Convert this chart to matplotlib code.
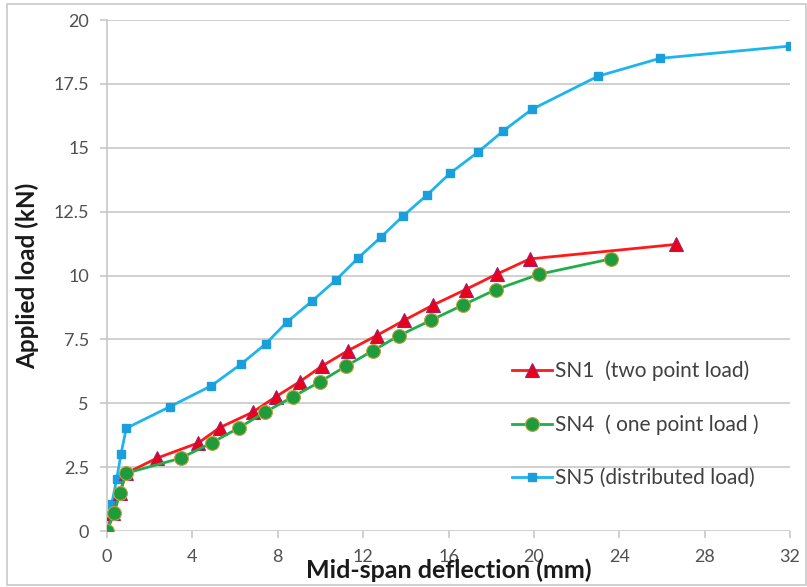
import matplotlib.pyplot as plt
from matplotlib.patches import Rectangle

# load-deflection readings (mm, kN)
sn1_x = [0, 0.3, 0.6, 0.9, 2.33, 4.28, 5.29, 6.82, 7.9, 9.04, 10.06, 11.27, 12.63, 13.93, 15.29, 16.8, 18.25, 19.81, 26.68]
sn1_y = [0, 0.72, 1.5, 2.26, 2.85, 3.45, 4.05, 4.65, 5.25, 5.85, 6.45, 7.05, 7.65, 8.25, 8.85, 9.45, 10.05, 10.65, 11.22]

sn4_x = [0, 0.34, 0.61, 0.89, 3.45, 4.9, 6.2, 7.4, 8.7, 10.0, 11.19, 12.44, 13.69, 15.18, 16.69, 18.22, 20.25, 23.6]
sn4_y = [0, 0.72, 1.5, 2.26, 2.85, 3.45, 4.05, 4.65, 5.25, 5.85, 6.45, 7.05, 7.65, 8.25, 8.85, 9.45, 10.05, 10.65]

sn5_x = [0, 0.22, 0.45, 0.66, 0.9, 2.93, 4.88, 6.26, 7.43, 8.42, 9.62, 10.73, 11.76, 12.83, 13.86, 14.99, 16.07, 17.38, 18.55, 19.9, 23.0, 25.9, 32.0]
sn5_y = [0, 1.05, 2.02, 3.03, 4.02, 4.86, 5.68, 6.52, 7.32, 8.17, 9.01, 9.83, 10.68, 11.5, 12.32, 13.15, 14.0, 14.83, 15.65, 16.5, 17.8, 18.5, 18.98]

labels = ['SN1  (two point load)', 'SN4  ( one point load )', 'SN5 (distributed load)']

plt.rcParams['font.family'] = ['Lato', 'DejaVu Sans']

fig = plt.figure(figsize=(8.07, 5.87), dpi=100)
ax = fig.add_axes([0.1326, 0.0954, 0.8464, 0.8705])

# outer frame of the chart area
fig.patches.append(Rectangle((0.009, 0.004), 0.99, 0.99, transform=fig.transFigure,
                             fill=False, edgecolor='#c8c8c8', linewidth=1.2))

ax.plot(sn1_x, sn1_y, color='#ff1a1a', lw=2, marker='^', ms=10,
        markerfacecolor='#e8001c', markeredgecolor='#a0206a', markeredgewidth=0.8, label=labels[0], zorder=3)
ax.plot(sn4_x, sn4_y, color='#1fae4a', lw=2, marker='o', ms=10,
        markerfacecolor='#1e9c3c', markeredgecolor='#c8a040', markeredgewidth=0.8, label=labels[1], zorder=4)
ax.plot(sn5_x, sn5_y, color='#1eb4ec', lw=2, marker='s', ms=5.5,
        markerfacecolor='#1a9fdc', markeredgecolor='#1a9fdc', label=labels[2], zorder=2)

ax.set_xlim(0, 32)
ax.set_ylim(0, 20)
ax.set_xticks(range(0, 33, 4))
ax.set_yticks([0, 2.5, 5, 7.5, 10, 12.5, 15, 17.5, 20])
ax.set_yticklabels(['0', '2.5', '5', '7.5', '10', '12.5', '15', '17.5', '20'])

ax.grid(axis='y', color='#c8c8c8', lw=1.2)
ax.set_axisbelow(True)
for s in ['top', 'right', 'bottom']:
    ax.spines[s].set_visible(False)
ax.spines['left'].set_color('#c8c8c8')
ax.spines['left'].set_linewidth(1.2)
ax.tick_params(axis='both', colors='#c8c8c8', labelcolor='#505050', labelsize=13, length=5, width=1.2)
ax.tick_params(axis='x', pad=8)
ax.tick_params(axis='y', pad=8)

ax.set_xlabel('Mid-span deflection (mm)', fontsize=18, fontweight='bold', color='#1a1a1a', labelpad=-5)
ax.set_ylabel('Applied load (kN)', fontsize=17.5, fontweight='bold', color='#1a1a1a', labelpad=10)

ax.legend(loc='center left', bbox_to_anchor=(0.566, 0.209), frameon=False, fontsize=15,
          labelspacing=1.6, handlelength=1.9, handletextpad=0.15, labelcolor='#404040')

fig.savefig('out.png', dpi=100)
